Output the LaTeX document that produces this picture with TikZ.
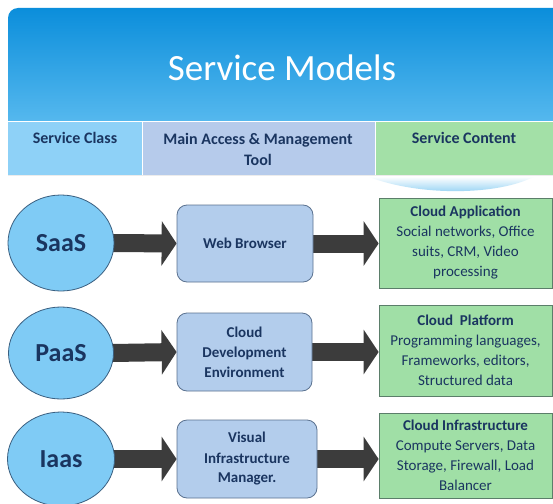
\documentclass[tikz,border=0pt]{standalone}
\usepackage{fontspec}
\setmainfont{Carlito}
\usetikzlibrary{shapes.geometric,arrows.meta,backgrounds}
\pgfdeclarelayer{bottom}
\pgfsetlayers{bottom,background,main}
\definecolor{navy}{HTML}{1A3560}
\definecolor{bandtop}{HTML}{0B8EDB}
\definecolor{bandbot}{HTML}{55B8EE}
\definecolor{colA}{HTML}{8ED1F7}
\definecolor{colB}{HTML}{B6CBEB}
\definecolor{colC}{HTML}{A3E0A7}
\definecolor{ellfill}{HTML}{7FCBF5}
\definecolor{ellline}{HTML}{3A5F80}
\definecolor{boxfill}{HTML}{B3CDEC}
\definecolor{boxline}{HTML}{5B7290}
\definecolor{grnfill}{HTML}{A0DFA6}
\definecolor{grnline}{HTML}{5B7E6A}
\definecolor{arrowc}{HTML}{3C3C3C}
\definecolor{swoosh}{HTML}{78C6F0}
\tikzset{
  classnode/.style={ellipse, draw=ellline, line width=0.8pt, fill=ellfill, inner sep=0pt,
    font=\fontsize{26}{30}\selectfont\bfseries, text=navy},
  toolnode/.style={rectangle, rounded corners=10pt, draw=boxline, line width=0.8pt, fill=boxfill,
    inner sep=0pt, align=center, font=\fontsize{15}{20}\selectfont\bfseries, text=navy},
  contentnode/.style={rectangle, draw=grnline, line width=0.8pt, fill=grnfill,
    inner sep=0pt, align=center, font=\fontsize{15}{20}\selectfont, text=navy},
  headtext/.style={align=center, font=\fontsize{16}{21}\selectfont\bfseries, text=navy},
  blockarrow/.style={draw=arrowc, line width=18pt, -{Triangle[length=15pt,width=44pt]}}
}
\begin{document}
\begin{tikzpicture}[x=1pt,y=-1pt]
\useasboundingbox (0,0) rectangle (553,503);
\begin{pgfonlayer}{bottom}
\fill[white] (0,0) rectangle (553,503);
\end{pgfonlayer}
% header band
\shade[top color=bandtop, bottom color=bandbot]
  (8,121) [rounded corners=10pt] -- (8,8) [sharp corners] -- (553,8) -- (553,121) -- cycle;
\node[text=white, font=\fontsize{37}{40}\selectfont] (title) at (282,68) {Service Models};
% header row
\fill[colA] (8,121) rectangle (142,175);
\fill[colB] (142,121) rectangle (375,175);
\fill[colC] (375,121) rectangle (553,175);
\draw[white, line width=1pt] (8,121) -- (553,121);
\draw[white, line width=1pt] (142,121) -- (142,175);
\draw[white, line width=1pt] (375,121) -- (375,175);
\draw[white!85!gray, line width=0.6pt] (8,175.3) -- (553,175.3);
\node[headtext] (h1) at (75,138) {Service Class};
\node[headtext] (h2) at (258,149) {Main Access \& Management\\Tool};
\node[headtext] (h3) at (464,138) {Service Content};
% swoosh under header
\shade[top color=white, bottom color=swoosh]
  (368,176.5) .. controls (420,197) and (500,195) .. (534,176.5) -- cycle;
% rows
\node[classnode, minimum width=106pt, minimum height=96pt] (s1) at (61,243) {SaaS};
\node[classnode, minimum width=105pt, minimum height=92pt] (s2) at (61,353) {PaaS};
\node[classnode, minimum width=107pt, minimum height=94pt] (s3) at (61,459) {Iaas};
\node[toolnode, minimum width=136pt, minimum height=77pt] (w1) at (245,243.5) {Web Browser};
\node[toolnode, minimum width=135pt, minimum height=78pt] (w2) at (244.5,352) {Cloud\\Development\\Environment};
\node[toolnode, minimum width=140pt, minimum height=78pt] (w3) at (247,459) {Visual\\Infrastructure\\Manager.};
\node[contentnode, minimum width=173pt, minimum height=90pt] (g1) at (465.5,243)
  {\textbf{Cloud Application}\\Social networks, Office\\suits, CRM, Video\\processing};
\node[contentnode, minimum width=173pt, minimum height=91pt] (g2) at (465.5,350.5)
  {\textbf{Cloud\ \ Platform}\\Programming languages,\\Frameworks, editors,\\Structured data};
\node[contentnode, minimum width=173pt, minimum height=85pt] (g3) at (465.5,455.5)
  {\textbf{Cloud Infrastructure}\\Compute Servers, Data\\Storage, Firewall, Load\\Balancer};
% arrows
\begin{scope}[on background layer]
\draw[blockarrow] ([xshift=-2pt]s1.east) -- (w1.west);
\draw[blockarrow] ([xshift=-2pt]s2.east) -- (w2.west);
\draw[blockarrow] ([xshift=-2pt]s3.east) -- (w3.west);
\draw[blockarrow] (w1.east) -- (w1.east -| g1.west);
\draw[blockarrow] (w2.east) -- (w2.east -| g2.west);
\draw[blockarrow] (w3.east) -- (w3.east -| g3.west);
\end{scope}
\end{tikzpicture}
\end{document}
